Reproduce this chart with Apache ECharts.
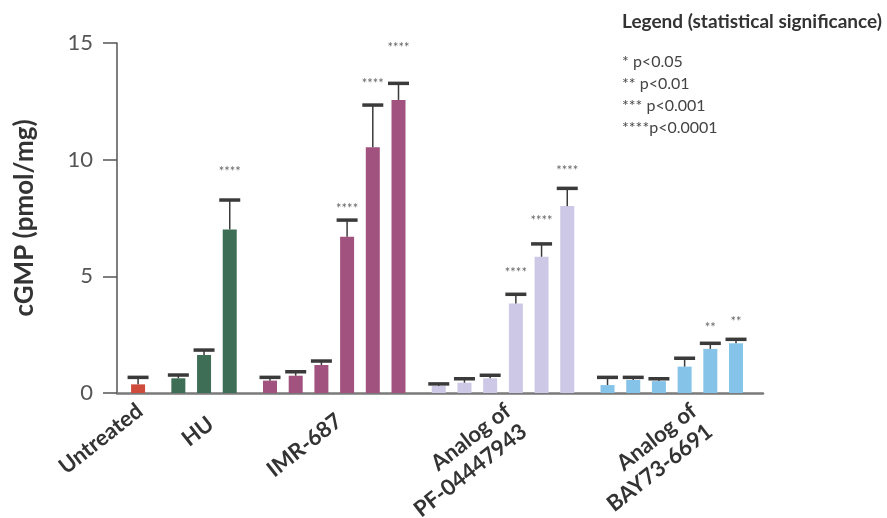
<!DOCTYPE html>
<html>
<head>
<meta charset="utf-8">
<script src="https://cdn.jsdelivr.net/npm/echarts@6/dist/echarts.min.js"></script>
<style>html,body{margin:0;padding:0;background:#fff}#c{width:887px;height:518px}</style>
</head>
<body>
<div id="c"></div>
<script>
// ---- data ----
const groups = ['Untreated', 'HU', 'IMR-687', 'Analog of\nPF-04447943', 'Analog of\nBAY73-6691'];
const groupColors = ['#cf4b3c', '#3f6e57', '#a2527f', '#cdc8e6', '#85c3e8'];

const untreatedMean = [0.37];
const untreatedUpper = [0.67];
const huMean = [0.63, 1.63, 7.01];
const huUpper = [0.77, 1.84, 8.27];
const imrMean = [0.53, 0.74, 1.20, 6.70, 10.53, 12.56];
const imrUpper = [0.67, 0.91, 1.37, 7.41, 12.34, 13.27];
const pfMean = [0.30, 0.44, 0.63, 3.84, 5.84, 8.01];
const pfUpper = [0.39, 0.61, 0.76, 4.23, 6.39, 8.77];
const bayMean = [0.34, 0.56, 0.51, 1.13, 1.89, 2.13];
const bayUpper = [0.67, 0.67, 0.61, 1.49, 2.13, 2.30];

// significance marks (text and height where the mark sits)
const untreatedSig = [''];
const untreatedSigY = [0];
const huSig = ['', '', '****'];
const huSigY = [0, 0, 9.47];
const imrSig = ['', '', '', '****', '****', '****'];
const imrSigY = [0, 0, 0, 7.89, 13.24, 14.79];
const pfSig = ['', '', '', '****', '****', '****'];
const pfSigY = [0, 0, 0, 5.13, 7.37, 9.53];
const baySig = ['', '', '', '', '**', '**'];
const baySigY = [0, 0, 0, 0, 2.80, 3.03];

const yTicks = [0, 5, 10, 15];
const legendTitle = 'Legend (statistical significance)';
const legendLines = ['* p<0.05', '** p<0.01', '*** p<0.001', '****p<0.0001'];

// ---- layout (pixels) ----
const GAP = 0.567;                 // extra spacing between groups (in bar slots)
const LABEL_ANGLE = 38;            // degrees
const labelOffsets = [[-6, 5], [-1, 18], [-3, 15], [-3, 5], [14, 5]]; // from group centre on the axis

// ---- build ----
const means = [untreatedMean, huMean, imrMean, pfMean, bayMean];
const uppers = [untreatedUpper, huUpper, imrUpper, pfUpper, bayUpper];
const sigs = [untreatedSig, huSig, imrSig, pfSig, baySig];
const sigYs = [untreatedSigY, huSigY, imrSigY, pfSigY, baySigY];

const barData = [], errData = [], sigData = [], labelData = [];
let idx = 0;
means.forEach((arr, g) => {
  const xs = [];
  arr.forEach((v, j) => {
    const x = idx + g * GAP;
    xs.push(x);
    barData.push({ value: [x, v], itemStyle: { color: groupColors[g] } });
    errData.push([x, v, uppers[g][j]]);
    if (sigs[g][j]) sigData.push([x, sigYs[g][j], sigs[g][j]]);
    idx++;
  });
  labelData.push([(xs[0] + xs[xs.length - 1]) / 2, 0, g]);
});
const xMin = -0.82;
const xMax = (idx - 1) + (groups.length - 1) * GAP + 1.05;

const FONT = 'Lato, "Open Sans", sans-serif';
const chart = echarts.init(document.getElementById('c'), null, { renderer: 'canvas' });
chart.setOption({
  animation: false,
  backgroundColor: '#fff',
  grid: { left: 117, right: 124, top: 43, bottom: 125, containLabel: false },
  xAxis: {
    type: 'value', min: xMin, max: xMax,
    splitLine: { show: false },
    axisLine: { show: true, onZero: false, lineStyle: { color: '#7a7a7a', width: 2.5 } },
    axisTick: { show: false },
    axisLabel: { show: false }
  },
  yAxis: {
    type: 'value', min: 0, max: 15, interval: 5,
    name: 'cGMP (pmol/mg)', nameLocation: 'middle', nameGap: 79, nameRotate: 90,
    nameTextStyle: { fontFamily: FONT, fontWeight: 'bold', fontSize: 26, color: '#333' },
    splitLine: { show: false },
    axisLine: { show: true, onZero: false, lineStyle: { color: '#555', width: 1.5 } },
    axisTick: { show: true, length: 14, lineStyle: { color: '#555', width: 1.5 } },
    axisLabel: {
      margin: 24, fontFamily: FONT, fontSize: 22, color: '#555',
      customValues: yTicks
    }
  },
  series: [
    {
      type: 'bar', data: barData, barWidth: 14, z: 2
    },
    {
      type: 'custom', data: errData, z: 3,
      renderItem: (params, api) => {
        const p1 = api.coord([api.value(0), api.value(1)]);
        const p2 = api.coord([api.value(0), api.value(2)]);
        return {
          type: 'group', children: [
            { type: 'line', shape: { x1: p1[0], y1: p1[1], x2: p2[0], y2: p2[1] }, style: { stroke: '#3a3a3a', lineWidth: 1.5 } },
            { type: 'line', shape: { x1: p2[0] - 10.5, y1: p2[1], x2: p2[0] + 10.5, y2: p2[1] }, style: { stroke: '#3a3a3a', lineWidth: 3.5 } }
          ]
        };
      }
    },
    {
      type: 'custom', data: sigData, z: 4,
      renderItem: (params, api) => {
        const p = api.coord([api.value(0), api.value(1)]);
        return {
          type: 'text', x: p[0], y: p[1],
          style: { text: sigData[params.dataIndex][2], fill: '#666', font: '13px ' + FONT, align: 'center', verticalAlign: 'middle' }
        };
      }
    },
    {
      type: 'custom', data: labelData, z: 5, clip: false,
      renderItem: (params, api) => {
        const g = api.value(2);
        const p = api.coord([api.value(0), 0]);
        const off = labelOffsets[g];
        return {
          type: 'text', x: p[0] + off[0], y: p[1] + off[1],
          rotation: LABEL_ANGLE * Math.PI / 180,
          style: {
            text: groups[g], fill: '#333', font: 'bold 22px ' + FONT,
            align: 'right', verticalAlign: 'top', lineHeight: 26
          }
        };
      }
    }
  ],
  graphic: [
    { type: 'text', left: 622, top: 12, style: { text: legendTitle, fill: '#333', font: 'bold 19px ' + FONT } },
    ...legendLines.map((t, i) => ({
      type: 'text', left: 622, top: 54 + i * 22, style: { text: t, fill: '#444', font: '16px ' + FONT }
    }))
  ]
});
</script>
</body>
</html>
